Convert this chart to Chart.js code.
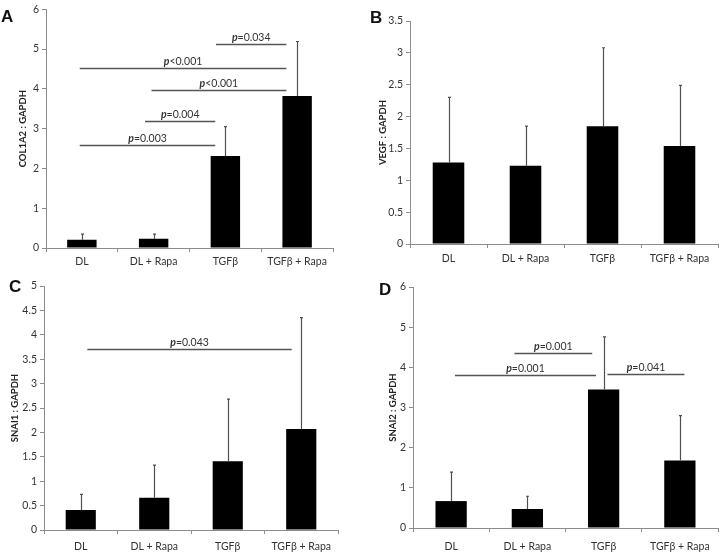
<!DOCTYPE html>
<html><head><meta charset="utf-8">
<script src="https://cdn.jsdelivr.net/npm/chart.js@4/dist/chart.umd.min.js"></script>
<style>
html,body{margin:0;padding:0;background:#fff}
body{width:720px;height:552px;position:relative;overflow:hidden}
canvas{position:absolute}
.lbl{position:absolute;font:bold 17px "Liberation Sans",Arial,sans-serif;color:#111;line-height:17px}
</style></head><body>
<canvas id="cA" width="360" height="276" style="left:0;top:0"></canvas>
<canvas id="cB" width="360" height="276" style="left:360px;top:0"></canvas>
<canvas id="cC" width="360" height="276" style="left:0;top:276px"></canvas>
<canvas id="cD" width="360" height="276" style="left:360px;top:276px"></canvas>
<div class="lbl" style="left:1px;top:8px">A</div>
<div class="lbl" style="left:370px;top:9px">B</div>
<div class="lbl" style="left:9px;top:278px">C</div>
<div class="lbl" style="left:379px;top:281px">D</div>
<script>
const categories = ['DL', 'DL + Rapa', 'TGFβ', 'TGFβ + Rapa'];

const col1a2Values = [0.21, 0.23, 2.31, 3.82];
const col1a2Errors = [0.14, 0.12, 0.74, 1.37];
const col1a2Brackets = [[-0.03, 1.86, 2.58, '=0.003'], [0.88, 1.86, 3.18, '=0.004'], [0.97, 2.85, 3.97, '<0.001'], [-0.03, 2.85, 4.52, '<0.001'], [1.87, 2.85, 5.12, '=0.034']];

const vegfValues = [1.28, 1.23, 1.85, 1.54];
const vegfErrors = [1.02, 0.62, 1.23, 0.95];
const vegfBrackets = [];

const snai1Values = [0.41, 0.66, 1.41, 2.07];
const snai1Errors = [0.32, 0.67, 1.27, 2.28];
const snai1Brackets = [[0.09, 2.87, 3.70, '=0.043']];

const snai2Values = [0.67, 0.47, 3.45, 1.68];
const snai2Errors = [0.72, 0.32, 1.31, 1.12];
const snai2Brackets = [[0.05, 1.90, 3.81, '=0.001'], [0.83, 1.85, 4.35, '=0.001'], [2.05, 3.06, 3.83, '=0.041']];

const FONT = 'Lato, "Open Sans", sans-serif';
const AXIS = '#8c8c8c';

function annotPlugin(errors, brackets) {
  return {
    id: 'annot',
    afterDatasetsDraw(chart) {
      const ctx = chart.ctx, xs = chart.scales.x, ys = chart.scales.y;
      const meta = chart.getDatasetMeta(0);
      const vals = chart.data.datasets[0].data;
      ctx.save();
      ctx.strokeStyle = '#505050';
      ctx.lineWidth = 1.2;
      errors.forEach((e, i) => {
        const px = Math.round(meta.data[i].x) + 0.5;
        const y0 = ys.getPixelForValue(vals[i]);
        const y1 = ys.getPixelForValue(vals[i] + e);
        ctx.beginPath();
        ctx.moveTo(px, y0); ctx.lineTo(px, y1);
        ctx.moveTo(px - 1.5, y1); ctx.lineTo(px + 1.5, y1);
        ctx.stroke();
      });
      brackets.forEach(b => {
        const x1 = xs.getPixelForValue(b[0]), x2 = xs.getPixelForValue(b[1]);
        const yy = Math.round(ys.getPixelForValue(b[2])) + 0.5;
        ctx.strokeStyle = '#555';
        ctx.lineWidth = 1.3;
        ctx.beginPath(); ctx.moveTo(x1, yy); ctx.lineTo(x2, yy); ctx.stroke();
        const f1 = 'italic bold 10.5px ' + FONT, f2 = '10.5px ' + FONT;
        ctx.font = f1; const w1 = ctx.measureText('p').width;
        ctx.font = f2; const w2 = ctx.measureText(b[3]).width;
        const sx = (x1 + x2) / 2 - (w1 + w2) / 2;
        ctx.fillStyle = '#333';
        ctx.textBaseline = 'alphabetic';
        ctx.textAlign = 'left';
        ctx.font = f1; ctx.fillText('p', sx, yy - 4);
        ctx.font = f2; ctx.fillText(b[3], sx + w1, yy - 4);
      });
      ctx.restore();
    }
  };
}

function makePanel(id, values, errors, brackets, cfg) {
  new Chart(document.getElementById(id), {
    type: 'bar',
    data: {
      labels: categories,
      datasets: [{ data: values, backgroundColor: '#000', borderWidth: 0, barPercentage: 0.41, categoryPercentage: 1 }]
    },
    plugins: [annotPlugin(errors, brackets)],
    options: {
      responsive: false,
      animation: false,
      layout: { padding: { left: 0, top: cfg.top, right: cfg.right, bottom: 0 } },
      plugins: { legend: { display: false }, tooltip: { enabled: false } },
      scales: {
        x: {
          grid: { display: true, drawOnChartArea: false, drawTicks: true, tickLength: 4, color: AXIS, offset: true },
          border: { color: AXIS, width: 1 },
          ticks: { color: '#333', font: { family: FONT, size: 10.5 }, padding: cfg.xPad, maxRotation: 0, autoSkip: false },
          afterFit(s) { s.height = cfg.xH; }
        },
        y: {
          min: 0, max: cfg.max,
          grid: { display: true, drawOnChartArea: false, drawTicks: true, tickLength: 4, color: AXIS },
          border: { color: AXIS, width: 1 },
          ticks: { stepSize: cfg.step, color: '#333', font: { family: FONT, size: 10.5 }, padding: 3, autoSkip: false,
                   callback: v => String(Math.round(v * 10) / 10) },
          title: { display: true, text: cfg.title, color: '#222', font: { family: FONT, size: 9.5, weight: 'bold' }, padding: { top: cfg.titleX - 6, bottom: 0 } },
          afterFit(s) { s.width = cfg.yW; }
        }
      }
    }
  });
}

makePanel('cA', col1a2Values, col1a2Errors, col1a2Brackets,
  { top: 6, right: 27, yW: 46, xH: 28, xPad: 3, max: 6, step: 1, title: 'COL1A2 : GAPDH', titleX: 23 });
makePanel('cB', vegfValues, vegfErrors, vegfBrackets,
  { top: 21, right: 2, yW: 50, xH: 32, xPad: 4, max: 3.5, step: 0.5, title: 'VEGF : GAPDH', titleX: 23 });
makePanel('cC', snai1Values, snai1Errors, snai1Brackets,
  { top: 10, right: 22, yW: 44, xH: 22, xPad: 6, max: 5, step: 0.5, title: 'SNAI1 : GAPDH', titleX: 15 });
makePanel('cD', snai2Values, snai2Errors, snai2Brackets,
  { top: 11, right: 2, yW: 53, xH: 24, xPad: 8, max: 6, step: 1, title: 'SNAI2 : GAPDH', titleX: 33 });
</script>
</body></html>
